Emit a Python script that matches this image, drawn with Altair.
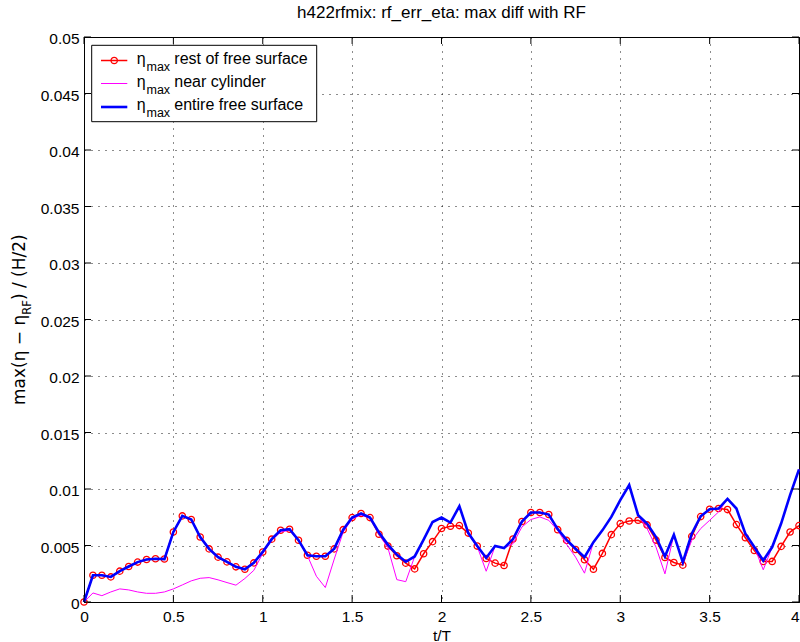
import altair as alt
import pandas as pd

# time axis t/T, sampled every 0.05 periods
t_vals = [
    0.00, 0.05, 0.10, 0.15, 0.20, 0.25, 0.30, 0.35, 0.40, 0.45,
    0.50, 0.55, 0.60, 0.65, 0.70, 0.75, 0.80, 0.85, 0.90, 0.95,
    1.00, 1.05, 1.10, 1.15, 1.20, 1.25, 1.30, 1.35, 1.40, 1.45,
    1.50, 1.55, 1.60, 1.65, 1.70, 1.75, 1.80, 1.85, 1.90, 1.95,
    2.00, 2.05, 2.10, 2.15, 2.20, 2.25, 2.30, 2.35, 2.40, 2.45,
    2.50, 2.55, 2.60, 2.65, 2.70, 2.75, 2.80, 2.85, 2.90, 2.95,
    3.00, 3.05, 3.10, 3.15, 3.20, 3.25, 3.30, 3.35, 3.40, 3.45,
    3.50, 3.55, 3.60, 3.65, 3.70, 3.75, 3.80, 3.85, 3.90, 3.95,
    4.00,
]

# eta_max, rest of free surface
eta_rest = [
    0.0, 0.00237, 0.00237, 0.00222, 0.00273, 0.00314, 0.00353, 0.00376, 0.00383, 0.00380,
    0.00620, 0.00762, 0.00730, 0.00575, 0.00470, 0.00397, 0.00355, 0.00311, 0.00290, 0.00346,
    0.00443, 0.00556, 0.00635, 0.00644, 0.00547, 0.00414, 0.00405, 0.00405, 0.00470, 0.00640,
    0.00747, 0.00783, 0.00747, 0.00599, 0.00495, 0.00409, 0.00344, 0.00293, 0.00427, 0.00534,
    0.00650, 0.00670, 0.00676, 0.00610, 0.00495, 0.00385, 0.00344, 0.00323, 0.00557, 0.00712,
    0.00792, 0.00792, 0.00774, 0.00640, 0.00545, 0.00465, 0.00374, 0.00290, 0.00430, 0.00596,
    0.00694, 0.00717, 0.00723, 0.00682, 0.00548, 0.00394, 0.00350, 0.00326, 0.00581, 0.00756,
    0.00821, 0.00827, 0.00818, 0.00685, 0.00569, 0.00456, 0.00359, 0.00359, 0.00492, 0.00619,
    0.00676,
]

# eta_max, near cylinder
eta_near = [
    0.0, 0.00080, 0.00056, 0.00089, 0.00116, 0.00107, 0.00089, 0.00077, 0.00077, 0.00089,
    0.00116, 0.00151, 0.00187, 0.00210, 0.00216, 0.00196, 0.00172, 0.00149, 0.00208, 0.00280,
    0.00430, 0.00545, 0.00620, 0.00634, 0.00545, 0.00410, 0.00228, 0.00128, 0.00380, 0.00620,
    0.00735, 0.00770, 0.00740, 0.00600, 0.00480, 0.00198, 0.00180, 0.00403, 0.00552, 0.00708,
    0.00747, 0.00703, 0.00848, 0.00600, 0.00490, 0.00272, 0.00495, 0.00477, 0.00516, 0.00664,
    0.00730, 0.00753, 0.00723, 0.00634, 0.00510, 0.00397, 0.00255, 0.00530, 0.00634, 0.00753,
    0.00901, 0.01035, 0.00768, 0.00650, 0.00486, 0.00249, 0.00596, 0.00340, 0.00545, 0.00650,
    0.00723, 0.00797, 0.00913, 0.00827, 0.00605, 0.00486, 0.00285, 0.00486, 0.00694, 0.00946,
    0.01174,
]

# eta_max, entire free surface
eta_all = [
    0.0, 0.00237, 0.00237, 0.00222, 0.00273, 0.00314, 0.00353, 0.00376, 0.00383, 0.00380,
    0.00620, 0.00762, 0.00730, 0.00575, 0.00470, 0.00397, 0.00355, 0.00311, 0.00290, 0.00346,
    0.00443, 0.00556, 0.00635, 0.00644, 0.00547, 0.00414, 0.00405, 0.00405, 0.00472, 0.00640,
    0.00747, 0.00783, 0.00747, 0.00615, 0.00508, 0.00420, 0.00356, 0.00403, 0.00552, 0.00708,
    0.00747, 0.00703, 0.00848, 0.00610, 0.00495, 0.00390, 0.00495, 0.00477, 0.00557, 0.00712,
    0.00792, 0.00792, 0.00774, 0.00645, 0.00550, 0.00471, 0.00397, 0.00530, 0.00634, 0.00753,
    0.00901, 0.01035, 0.00768, 0.00694, 0.00575, 0.00403, 0.00596, 0.00352, 0.00605, 0.00759,
    0.00821, 0.00827, 0.00913, 0.00827, 0.00605, 0.00486, 0.00367, 0.00486, 0.00694, 0.00946,
    0.01174,
]

x_ticks = [0, 0.5, 1, 1.5, 2, 2.5, 3, 3.5, 4]
y_ticks = [0, 0.005, 0.01, 0.015, 0.02, 0.025, 0.03, 0.035, 0.04, 0.045, 0.05]

legend_labels = ["rest of free surface", "near cylinder", "entire free surface"]
legend_colors = ["#ff0000", "#ff00ff", "#0000ff"]
legend_widths = [1.5, 1.0, 2.6]

title_text = "h422rfmix: rf_err_eta: max diff with RF"

FONT = "Liberation Sans"
YFONT = "DejaVu Sans"
FS = 15.5
W, H = 715, 565
TICK = 7

df = pd.DataFrame({"t": t_vals, "rest": eta_rest, "near": eta_near, "entire": eta_all})

xscale = alt.Scale(domain=[0, 4], nice=False, zero=False)
yscale = alt.Scale(domain=[0, 0.05], nice=False, zero=False)

grid_style = dict(grid=True, gridColor="black", gridDash=[1, 6], gridWidth=1, gridOpacity=0.9,
                  ticks=False, tickSize=0, domainColor="black", domainWidth=1,
                  labelFont=FONT, labelFontSize=FS, labelColor="black",
                  labelFlush=False, labelOverlap=False)

xaxis = alt.Axis(values=x_ticks, format=".1~f", title="t/T", labelPadding=7,
                 labelAlign={"expr": "datum.value >= 4 ? 'right' : 'center'"},
                 titleFont=FONT, titleFontSize=FS, titleFontWeight="normal", titleColor="black",
                 titleX=W / 2, titleY=26, titleBaseline="top", titleAlign="center",
                 **grid_style)
yaxis = alt.Axis(values=y_ticks, format=".3~f", title=None, labelPadding=5, labelOffset=1.5,
                 **grid_style)


def xenc(field):
    return alt.X(field, type="quantitative", scale=xscale, axis=xaxis)


def yenc(field):
    return alt.Y(field, type="quantitative", scale=yscale, axis=yaxis)


base = alt.Chart(df)

red_line = base.mark_line(color="#ff0000", strokeWidth=1.5).encode(x=xenc("t"), y=yenc("rest"))
red_pts = base.mark_point(shape="circle", filled=False, color="#ff0000", size=40,
                          strokeWidth=1.3, opacity=1).encode(x=xenc("t"), y=yenc("rest"))
mag_line = base.mark_line(color="#ff00ff", strokeWidth=1).encode(x=xenc("t"), y=yenc("near"))
blue_line = base.mark_line(color="#0000ff", strokeWidth=2.6).encode(x=xenc("t"), y=yenc("entire"))

# inward tick marks on all four sides of the box
xt = alt.Chart(pd.DataFrame({"tx": x_ticks}))
yt = alt.Chart(pd.DataFrame({"ty": y_ticks}))
tick_b = xt.mark_rule(color="black", strokeWidth=1).encode(x=xenc("tx"), y=alt.value(H), y2=alt.value(H - TICK))
tick_t = xt.mark_rule(color="black", strokeWidth=1).encode(x=xenc("tx"), y=alt.value(0), y2=alt.value(TICK))
tick_l = yt.mark_rule(color="black", strokeWidth=1).encode(y=yenc("ty"), x=alt.value(0), x2=alt.value(TICK))
tick_r = yt.mark_rule(color="black", strokeWidth=1).encode(y=yenc("ty"), x=alt.value(W), x2=alt.value(W - TICK))

# legend box
one = alt.Chart(pd.DataFrame({"k": [0]}))
leg_box = one.mark_rect(fill="white", stroke="black", strokeWidth=1).encode(
    x=alt.value(7.7), x2=alt.value(232.7), y=alt.value(8.3), y2=alt.value(84.7))

LFS = 16
leg_layers = [leg_box]
row_text_y = [21.5, 44.5, 67.5]
row_line_y = [23.5, 46.5, 70.0]
for lab, col, sw, ty, ly in zip(legend_labels, legend_colors, legend_widths, row_text_y, row_line_y):
    leg_layers.append(one.mark_rule(color=col, strokeWidth=sw).encode(
        x=alt.value(17), x2=alt.value(43.3), y=alt.value(ly)))
    leg_layers.append(one.mark_text(text="η", font=FONT, fontSize=LFS, align="left",
                                    baseline="middle", color="black").encode(
        x=alt.value(52.7), y=alt.value(ty)))
    leg_layers.append(one.mark_text(text="max", font=FONT, fontSize=12.5, align="left",
                                    baseline="middle", color="black").encode(
        x=alt.value(62.5), y=alt.value(ty + 8)))
    leg_layers.append(one.mark_text(text=lab, font=FONT, fontSize=LFS, align="left",
                                    baseline="middle", color="black").encode(
        x=alt.value(90.3), y=alt.value(ty)))
leg_layers.append(one.mark_point(shape="circle", filled=False, color="#ff0000", size=40,
                                 strokeWidth=1.3, opacity=1).encode(
    x=alt.value(30.2), y=alt.value(row_line_y[0])))

# y axis title with a subscript, written bottom-to-top
YFS, YSUB = 17, 11.5
main_w = 5.311 * YFS          # advance of "max(η − η"
sub_w = 1.270 * YSUB          # advance of "RF"
YT_X, YT_Y = -59, 368
ytitle_main = one.mark_text(text="max(η − η", font=YFONT, fontSize=YFS, angle=270, align="left",
                            baseline="alphabetic", color="black").encode(
    x=alt.value(YT_X), y=alt.value(YT_Y))
ytitle_sub = one.mark_text(text="RF", font=YFONT, fontSize=YSUB, angle=270, align="left",
                           baseline="alphabetic", color="black", dx=main_w, dy=6).encode(
    x=alt.value(YT_X), y=alt.value(YT_Y))
ytitle_end = one.mark_text(text=") / (H/2)", font=YFONT, fontSize=YFS, angle=270, align="left",
                           baseline="alphabetic", color="black", dx=main_w + sub_w).encode(
    x=alt.value(YT_X), y=alt.value(YT_Y))

chart = alt.layer(
    red_line, red_pts, mag_line, blue_line,
    tick_b, tick_t, tick_l, tick_r,
    *leg_layers,
    ytitle_main, ytitle_sub, ytitle_end,
).properties(
    width=W,
    height=H,
    title=alt.TitleParams(text=title_text, font=FONT, fontSize=17, fontWeight="normal",
                          color="black", anchor="middle", offset=10),
    autosize=alt.AutoSizeParams(type="none"),
    padding={"left": 84, "top": 37, "right": 1, "bottom": 40},
    background="white",
).configure_view(stroke="black", strokeWidth=1)

chart.save("out.html", embed_options={"renderer": "svg", "actions": False})
